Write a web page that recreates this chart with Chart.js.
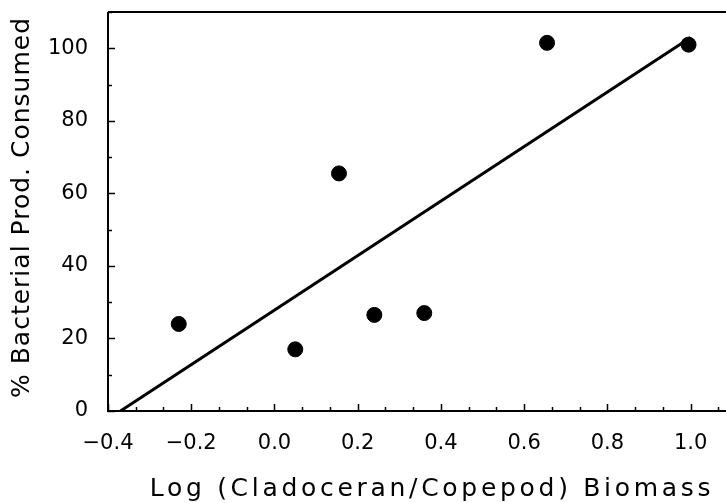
<!DOCTYPE html>
<html>
<head>
<meta charset="utf-8">
<script src="https://cdn.jsdelivr.net/npm/chart.js@4"></script>
<style>
  html, body { margin: 0; padding: 0; background: #fff; }
  #wrap { width: 726px; height: 503px; }
</style>
</head>
<body>
<div id="wrap"><canvas id="chart"></canvas></div>
<script>
// data
const logRatio = [-0.23, 0.05, 0.155, 0.24, 0.36, 0.655, 0.995];
const pctConsumed = [24, 17, 65.5, 26.5, 27, 101.5, 101];
const fitX = [-0.37, 1.0];
const fitY = [0, 103];
const xTicks = [-0.4, -0.2, 0.0, 0.2, 0.4, 0.6, 0.8, 1.0];
const yTicks = [0, 20, 40, 60, 80, 100];
const xTitle = "Log (Cladoceran/Copepod) Biomass";
const yTitle = "% Bacterial Prod. Consumed";

const font = "'DejaVu Sans', sans-serif";

// zero out the label overflow padding so the plot box sits where we want it
const noPad = (s) => { s.paddingTop = 0; s.paddingBottom = 0; s.paddingLeft = 0; s.paddingRight = 0; };

// frame, inward tick marks and the (letter-spaced) axis titles
const framePlugin = {
    id: "frame",
    afterDraw(chart) {
        const { ctx, chartArea: a, scales } = chart;
        const x = scales.x, y = scales.y;
        ctx.save();
        ctx.strokeStyle = "#000";
        ctx.lineWidth = 2;
        ctx.beginPath();
        ctx.moveTo(a.left, a.top);
        ctx.lineTo(a.right, a.top);
        ctx.moveTo(a.left, a.top);
        ctx.lineTo(a.left, a.bottom);
        ctx.lineTo(a.right, a.bottom);
        ctx.stroke();

        ctx.lineWidth = 1.5;
        ctx.beginPath();
        // x ticks, major + minor thirds
        const xs = xTicks[1] - xTicks[0];
        for (let v = xTicks[0]; v <= x.max + 1e-9; v += xs / 3) {
            const px = Math.round(x.getPixelForValue(v)) + 0.5;
            const major = Math.abs(v / xs - Math.round(v / xs)) < 1e-6;
            ctx.moveTo(px, a.bottom);
            ctx.lineTo(px, a.bottom - (major ? 7 : 4));
        }
        // y ticks, major + minor halves
        const ys = yTicks[1] - yTicks[0];
        for (let v = yTicks[0]; v <= y.max + 1e-9; v += ys / 2) {
            const py = Math.round(y.getPixelForValue(v)) + 0.5;
            const major = v % ys === 0;
            ctx.moveTo(a.left, py);
            ctx.lineTo(a.left + (major ? 7 : 4), py);
        }
        ctx.stroke();

        ctx.fillStyle = "#000";
        ctx.textAlign = "center";
        ctx.textBaseline = "middle";
        ctx.font = "25px " + font;
        ctx.letterSpacing = "3.7px";
        ctx.fillText(xTitle, (a.left + a.right) / 2 + 15, 489);
        ctx.letterSpacing = "1px";
        ctx.translate(22, (a.top + a.bottom) / 2 - 4);
        ctx.rotate(-Math.PI / 2);
        ctx.fillText(yTitle, 0, 0);
        ctx.restore();
    }
};

new Chart(document.getElementById("chart").getContext("2d"), {
    data: {
        datasets: [
            {
                type: "scatter",
                data: logRatio.map((v, i) => ({ x: v, y: pctConsumed[i] })),
                backgroundColor: "#000",
                borderColor: "#000",
                pointRadius: 7.5,
                pointHoverRadius: 7.5,
            },
            {
                type: "line",
                data: fitX.map((v, i) => ({ x: v, y: fitY[i] })),
                borderColor: "#000",
                borderWidth: 3,
                pointRadius: 0,
                fill: false,
            },
        ],
    },
    options: {
        responsive: true,
        maintainAspectRatio: false,
        animation: false,
        layout: { autoPadding: false, padding: { top: 12, right: 0, left: 0, bottom: 0 } },
        plugins: { legend: { display: false }, tooltip: { enabled: false } },
        scales: {
            x: {
                type: "linear",
                min: -0.4,
                max: 1.085,
                afterBuildTicks: (s) => { s.ticks = xTicks.map((v) => ({ value: v })); },
                afterFit: (s) => { s.height = 92; noPad(s); },
                grid: { display: false },
                border: { display: false },
                ticks: {
                    color: "#000",
                    padding: 12,
                    maxRotation: 0,
                    font: { family: font, size: 21 },
                    callback: (v) => (v < 0 ? "\u2212" : "") + Math.abs(v).toFixed(1),
                },
            },
            y: {
                type: "linear",
                min: 0,
                max: 110,
                afterBuildTicks: (s) => { s.ticks = yTicks.map((v) => ({ value: v })); },
                afterFit: (s) => { s.width = 108; noPad(s); },
                grid: { display: false },
                border: { display: false },
                ticks: {
                    color: "#000",
                    padding: 12,
                    font: { family: font, size: 21 },
                },
            },
        },
    },
    plugins: [framePlugin],
});
</script>
</body>
</html>
